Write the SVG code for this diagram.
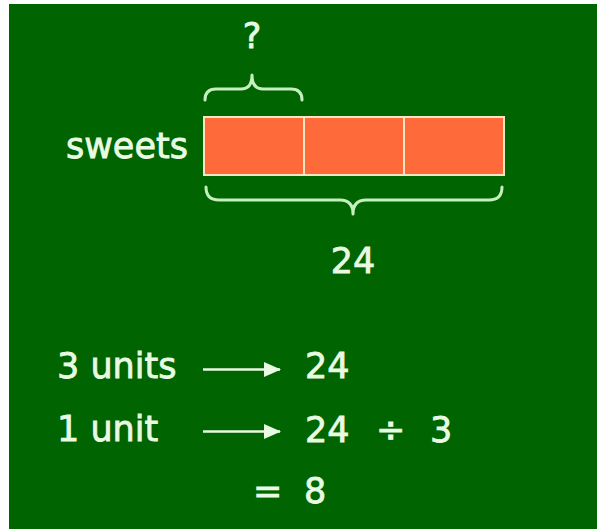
<svg xmlns="http://www.w3.org/2000/svg" width="597" height="529" viewBox="0 0 597 529">
<style>
  .t { font-family: "DejaVu Sans", Verdana, sans-serif; font-size: 35px; fill: #e8fbe2; stroke: #e8fbe2; stroke-width: 0.8; }
  .brace { fill: none; stroke: #c6efbf; stroke-width: 3; stroke-linecap: round; stroke-linejoin: round; }
  .cell { fill: #ff6a3a; stroke: #f7e6bf; stroke-width: 2; }
  .arrow { stroke: #e8fbe2; stroke-width: 2.5; fill: none; }
</style>
<defs>
  <marker id="ah" markerWidth="17" markerHeight="15" refX="16" refY="7.5" orient="auto" markerUnits="userSpaceOnUse">
    <path d="M0,0 L17,7.5 L0,15 Z" fill="#e8fbe2"/>
  </marker>
</defs>
<rect x="0" y="0" width="597" height="529" fill="#ffffff"/>
<rect x="9" y="4" width="588" height="525" fill="#006400"/>

<g id="bar">
  <rect class="cell" x="204" y="117" width="100" height="58"/>
  <rect class="cell" x="304" y="117" width="100" height="58"/>
  <rect class="cell" x="404" y="117" width="100" height="58"/>
</g>

<g id="label-sweets"><text class="t" x="66" y="158">sweets</text></g>

<g id="brace-top">
  <path class="brace" d="M205,100 Q205,89 216,89 L241,89 Q252,89 252,75 Q252,89 263,89 L291,89 Q302,89 302,100"/>
  <text class="t" x="252" y="48" text-anchor="middle">?</text>
</g>

<g id="brace-bottom">
  <path class="brace" d="M206,187 Q206,200 219,200 L340,200 Q353,200 353,214 Q353,200 366,200 L489,200 Q502,200 502,187"/>
  <text class="t" x="353" y="273" text-anchor="middle">24</text>
</g>

<g id="connectors">
  <line class="arrow" x1="203" y1="369.5" x2="280" y2="369.5" marker-end="url(#ah)"/>
  <line class="arrow" x1="203" y1="431.5" x2="280" y2="431.5" marker-end="url(#ah)"/>
</g>

<g id="row1">
  <text class="t" x="57" y="378">3 units</text>
  <text class="t" x="305" y="378">24</text>
</g>
<g id="row2">
  <text class="t" x="57" y="441">1 unit</text>
  <text class="t" y="442"><tspan x="305">24</tspan><tspan x="376">÷</tspan><tspan x="430">3</tspan></text>
</g>
<g id="row3">
  <text class="t" y="503"><tspan x="253">=</tspan><tspan x="304">8</tspan></text>
</g>
</svg>
